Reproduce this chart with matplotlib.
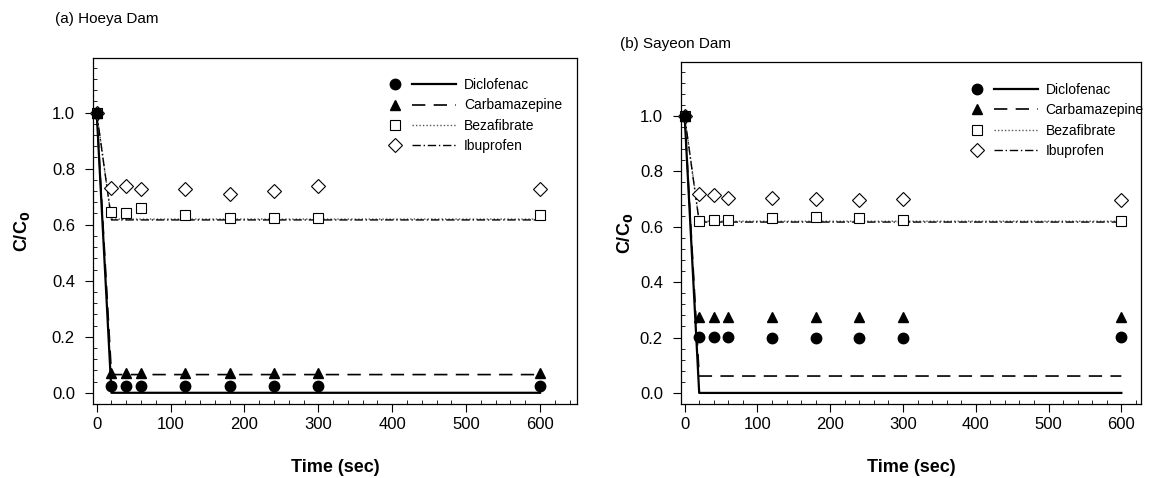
import matplotlib
matplotlib.use('Agg')
import matplotlib.pyplot as plt
from matplotlib.lines import Line2D
from matplotlib.legend_handler import HandlerBase
from matplotlib.ticker import MultipleLocator

plt.rcParams['font.family'] = ['Liberation Sans', 'DejaVu Sans']

# sampling times (s)
time = [0, 20, 40, 60, 120, 180, 240, 300, 600]
model_time = [0, 20, 600]

compounds = ['Diclofenac', 'Carbamazepine', 'Bezafibrate', 'Ibuprofen']

# (a) Hoeya Dam, measured C/C0
hoeya_dcf = [1.0, 0.025, 0.025, 0.025, 0.025, 0.025, 0.025, 0.025, 0.025]
hoeya_cbz = [1.0, 0.07, 0.07, 0.07, 0.07, 0.07, 0.07, 0.07, 0.07]
hoeya_bzf = [1.0, 0.645, 0.64, 0.66, 0.635, 0.625, 0.625, 0.625, 0.635]
hoeya_ibp = [1.0, 0.732, 0.737, 0.727, 0.727, 0.708, 0.72, 0.737, 0.727]
# (a) model curves
hoeya_dcf_fit = [1.0, 0.0, 0.0]
hoeya_cbz_fit = [1.0, 0.065, 0.065]
hoeya_bzf_fit = [1.0, 0.62, 0.62]
hoeya_ibp_fit = [1.0, 0.617, 0.617]

# (b) Sayeon Dam, measured C/C0
sayeon_dcf = [1.0, 0.202, 0.202, 0.202, 0.2, 0.2, 0.2, 0.2, 0.202]
sayeon_cbz = [1.0, 0.275, 0.275, 0.275, 0.275, 0.275, 0.275, 0.275, 0.275]
sayeon_bzf = [1.0, 0.62, 0.625, 0.625, 0.63, 0.635, 0.63, 0.625, 0.62]
sayeon_ibp = [1.0, 0.718, 0.715, 0.705, 0.705, 0.70, 0.695, 0.70, 0.695]
# (b) model curves
sayeon_dcf_fit = [1.0, 0.0, 0.0]
sayeon_cbz_fit = [1.0, 0.061, 0.061]
sayeon_bzf_fit = [1.0, 0.62, 0.62]
sayeon_ibp_fit = [1.0, 0.617, 0.617]

marker_style = [
    dict(marker='o', mfc='black', mec='black', ms=7.5),
    dict(marker='^', mfc='black', mec='black', ms=7.5),
    dict(marker='s', mfc='white', mec='black', ms=7.5, mew=0.8),
    dict(marker='D', mfc='white', mec='black', ms=7, mew=0.8),
]
line_style = [
    dict(color='black', lw=1.6, ls='-'),
    dict(color='black', lw=1.2, dashes=(8, 5)),
    dict(color='#555555', lw=1.0, dashes=(1, 1.5)),
    dict(color='black', lw=1.0, dashes=(6, 2, 1, 2)),
]


class MarkerLineHandler(HandlerBase):
    # marker on the left, model line to its right
    def create_artists(self, legend, orig_handle, xdescent, ydescent,
                       width, height, fontsize, trans):
        mk, ln = orig_handle
        y = height / 2 - ydescent
        x0 = -xdescent
        m = Line2D([x0 + 6], [y], ls='none')
        m.update_from(mk)
        m.set_transform(trans)
        l = Line2D([x0 + 18, x0 + width], [y, y], marker='none')
        l.update_from(ln)
        l.set_marker('none')
        l.set_transform(trans)
        return [m, l]


def draw_panel(ax, measured, fitted, xmax, title, title_xy, leg_anchor, ylab_x):
    handles = []
    for fit, ls in zip(fitted, line_style):
        ln, = ax.plot(model_time, fit, zorder=2, **ls)
        handles.append(ln)
    mks = []
    for i in reversed(range(4)):
        mk, = ax.plot(time, measured[i], ls='none', zorder=3 + (3 - i),
                      clip_on=False, **marker_style[i])
        mks.insert(0, mk)

    ax.set_xlim(-5, xmax)
    ax.set_ylim(-0.04, 1.195)
    ax.xaxis.set_major_locator(MultipleLocator(100))
    ax.xaxis.set_minor_locator(MultipleLocator(20))
    ax.yaxis.set_minor_locator(MultipleLocator(0.04))
    ax.set_yticks([0, 0.2, 0.4, 0.6, 0.8, 1.0])
    ax.yaxis.set_major_formatter(plt.FormatStrFormatter('%.1f'))
    ax.tick_params(which='major', direction='out', length=6, width=0.8,
                   labelsize=12, top=False, right=False)
    ax.tick_params(axis='y', which='major', pad=7)
    ax.tick_params(which='minor', direction='in', length=3, width=0.6,
                   top=False, right=False)
    for sp in ax.spines.values():
        sp.set_linewidth(0.9)

    ax.set_xlabel('Time (sec)', fontsize=13, fontweight='bold', labelpad=19.5)
    ax.set_ylabel(r'C/C$_\mathbf{0}$', fontsize=13, fontweight='bold')
    ax.yaxis.set_label_coords(ylab_x, 0.5)

    ax.legend(list(zip(mks, handles)), compounds,
              handler_map={tuple: MarkerLineHandler()},
              loc='upper left', bbox_to_anchor=leg_anchor,
              frameon=False, handlelength=5.0, handletextpad=0.55,
              labelspacing=0.45,
              prop=dict(family=['Liberation Sans Narrow', 'Liberation Sans'], size=10))
    ax.figure.text(title_xy[0], title_xy[1], title, fontsize=11, ha='left', va='center')


fig = plt.figure(figsize=(11.49, 4.78), dpi=100)
ax1 = fig.add_axes([93 / 1149, 1 - 404 / 478, 484 / 1149, 346 / 478])
ax2 = fig.add_axes([681 / 1149, 1 - 404 / 478, 460 / 1149, 342 / 478])

draw_panel(ax1,
           [hoeya_dcf, hoeya_cbz, hoeya_bzf, hoeya_ibp],
           [hoeya_dcf_fit, hoeya_cbz_fit, hoeya_bzf_fit, hoeya_ibp_fit],
           650, '(a) Hoeya Dam', (55 / 1149, 1 - 19 / 478),
           (0.581, 0.978), -0.126)
draw_panel(ax2,
           [sayeon_dcf, sayeon_cbz, sayeon_bzf, sayeon_ibp],
           [sayeon_dcf_fit, sayeon_cbz_fit, sayeon_bzf_fit, sayeon_ibp_fit],
           627, '(b) Sayeon Dam', (620 / 1149, 1 - 44 / 478),
           (0.598, 0.975), -0.10)

fig.savefig('out.png', dpi=100)
